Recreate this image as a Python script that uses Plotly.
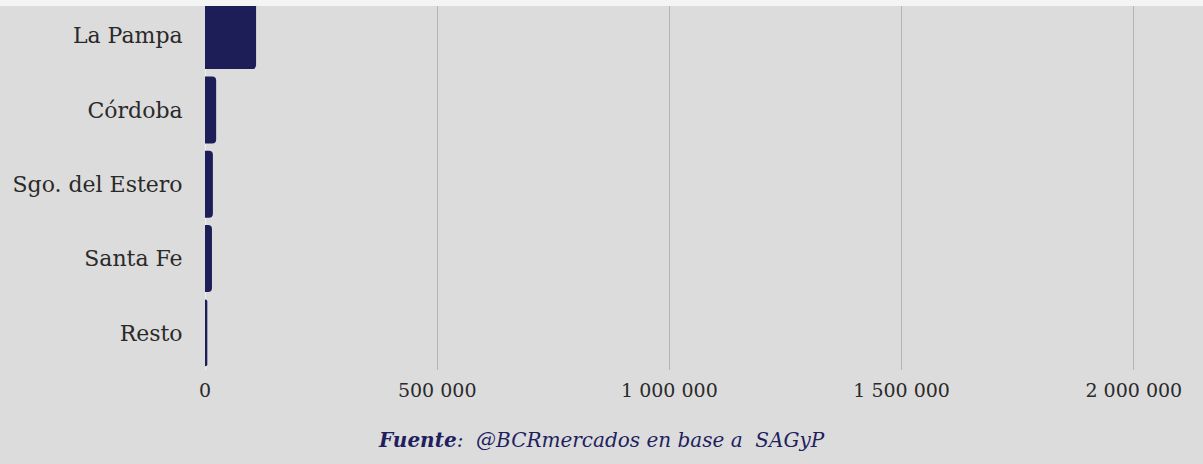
import plotly.graph_objects as go

provincias = ["La Pampa", "Córdoba", "Sgo. del Estero", "Santa Fe", "Resto"]
valores = [110000, 24000, 17000, 15000, 5000]
tick_vals = [0, 500000, 1000000, 1500000, 2000000]
tick_text = ["0", "500 000", "1 000 000", "1 500 000", "2 000 000"]
fuente = "<b>Fuente</b>:  @BCRmercados en base a  SAGyP"

W, H = 1203, 464
ml, mr, mt, mb = 205, 10, 0, 94

fig = go.Figure(go.Bar(
    y=provincias, x=valores, orientation="h",
    marker=dict(color="#1d1d57", cornerradius=4, line=dict(width=0)),
))

px_per_unit = 232.2 / 500000
plot_w = W - ml - mr
plot_h = H - mt - mb
cat_px = 74.3

fig.update_layout(
    width=W, height=H,
    margin=dict(l=ml, r=mr, t=mt, b=mb, pad=0),
    paper_bgcolor="#dcdcdc",
    plot_bgcolor="rgba(0,0,0,0)",
    bargap=0.1,
    showlegend=False,
    font=dict(family="DejaVu Serif", size=19, color="#2a2a2a"),
    xaxis=dict(
        range=[0, plot_w / px_per_unit],
        tickvals=tick_vals, ticktext=tick_text,
        showgrid=True, gridcolor="#b4b4b4", gridwidth=1,
        zeroline=True, zerolinecolor="#f0f0f0", zerolinewidth=1,
        showline=False,
        ticks="outside", ticklen=3, tickcolor="rgba(0,0,0,0)",
        tickfont=dict(family="DejaVu Serif", size=19, color="#2a2a2a"),
    ),
    yaxis=dict(
        categoryorder="array", categoryarray=provincias,
        range=[4.5, 4.5 - plot_h / cat_px],
        showgrid=False, zeroline=False, showline=False,
        ticks="outside", ticklen=17, tickcolor="rgba(0,0,0,0)",
        tickfont=dict(family="DejaVu Serif", size=22, color="#2a2a2a"),
    ),
    shapes=[dict(
        type="rect", xref="paper", yref="paper", layer="above",
        x0=-ml / plot_w, x1=1 + mr / plot_w,
        y0=1 - 6 / plot_h, y1=1 + 1 / plot_h,
        fillcolor="#f4f4f4", line=dict(width=0),
    )],
    annotations=[dict(
        text="<i>" + fuente + "</i>", xref="paper", yref="paper",
        x=0.5 - (ml - mr) / 2 / plot_w, y=-(440 - plot_h) / plot_h,
        xanchor="center", yanchor="middle", showarrow=False,
        font=dict(family="DejaVu Serif", size=20, color="#1f1f5f"),
    )],
)

fig.write_html("out.html")
